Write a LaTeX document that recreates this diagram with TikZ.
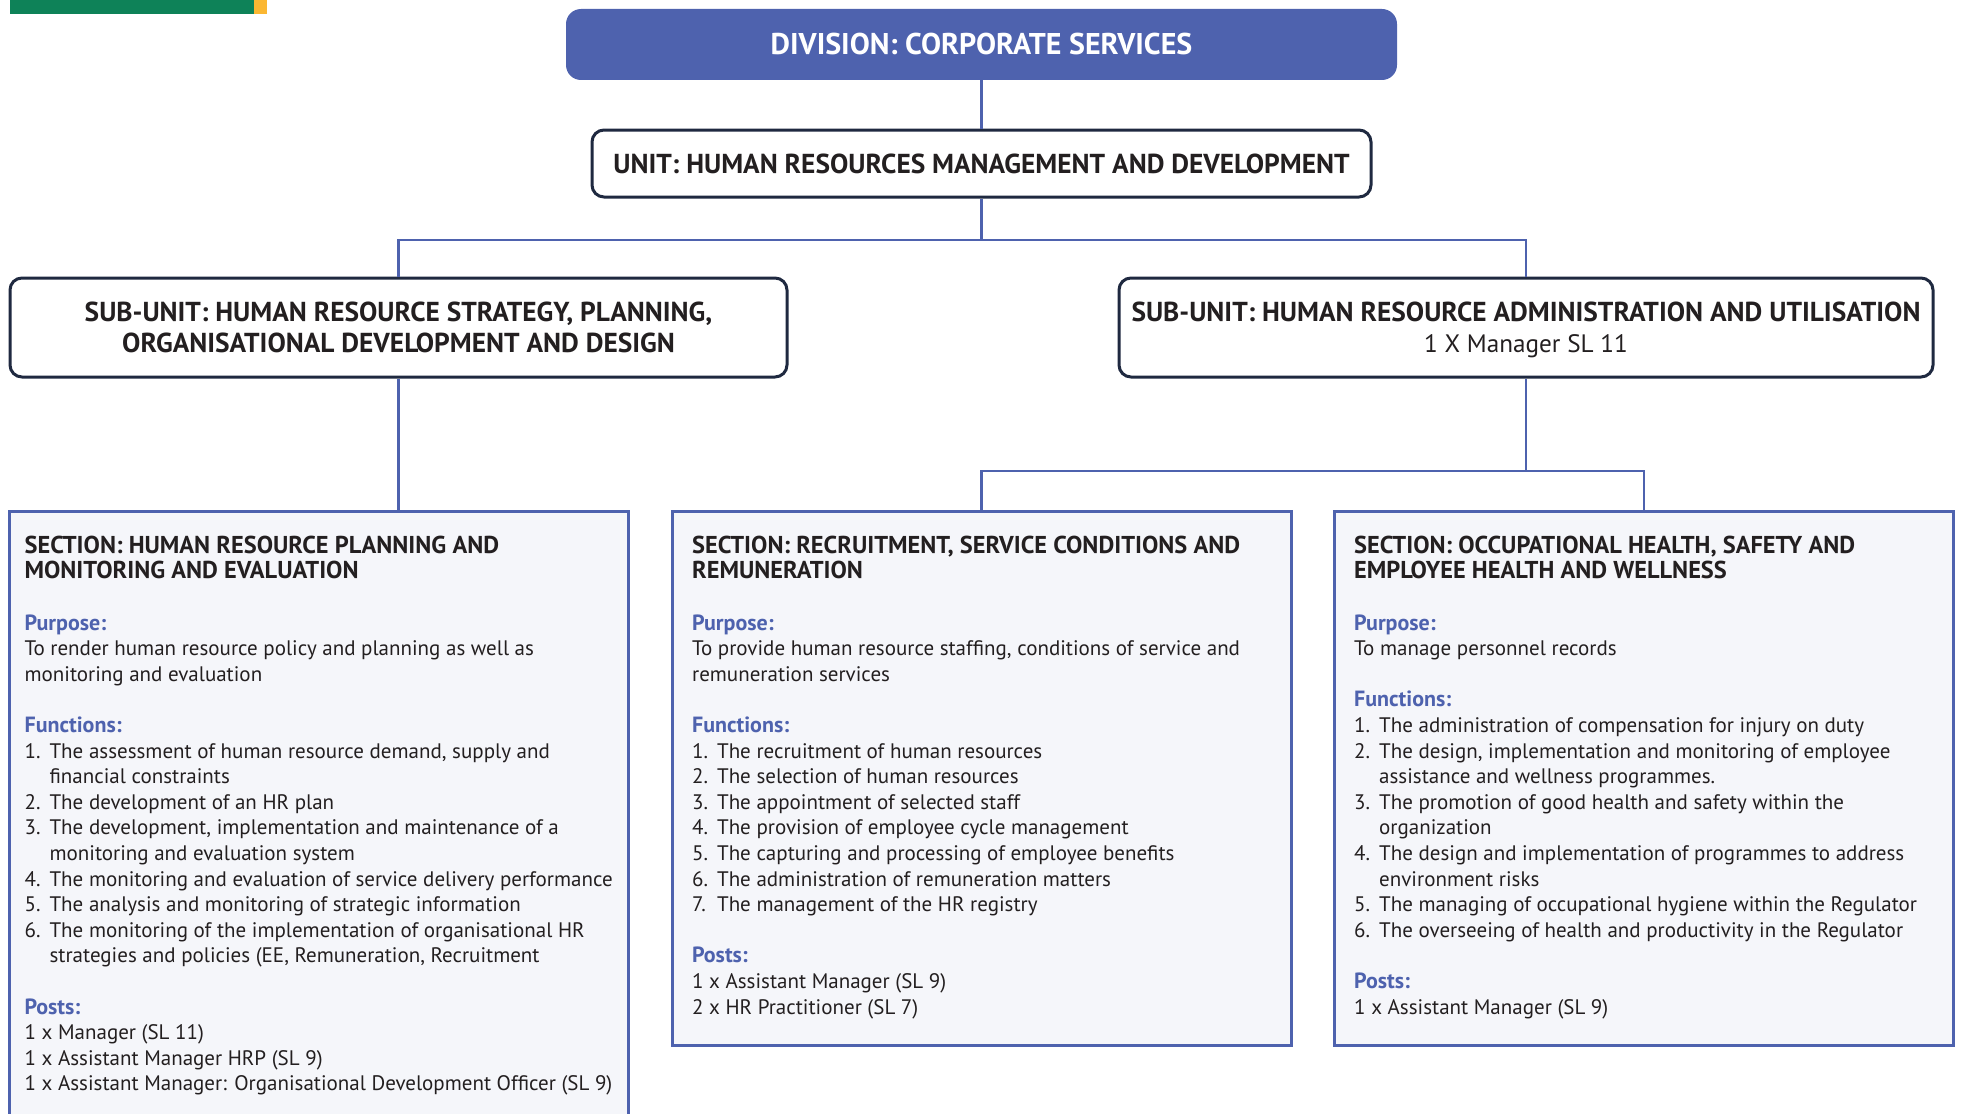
\documentclass[tikz,border=0pt]{standalone}
\usepackage{fontspec}
\setmainfont{PT Sans}
\usetikzlibrary{positioning, calc}

\definecolor{hrblue}{HTML}{4E62AE}
\definecolor{hrnavy}{HTML}{1F2940}
\definecolor{secfill}{HTML}{F5F6FA}
\definecolor{txt}{HTML}{231F20}
\definecolor{bargreen}{HTML}{0E8258}
\definecolor{baryellow}{HTML}{FBB732}

\newcommand{\sechead}{\fontsize{12.2}{12.8}\selectfont\bfseries}
\newcommand{\hrlabel}[1]{{\fontsize{11}{12.8}\selectfont\bfseries\color{hrblue}#1}}
\newcommand{\fitem}[2]{\makebox[12.5pt][l]{#1}#2}
\newcommand{\fcont}{\hspace*{12.5pt}}

\begin{document}
\begin{tikzpicture}[x=1pt, y=-1pt,
    divbox/.style={rounded corners=7.5pt, fill=hrblue, text=white, inner sep=0pt,
      font=\fontsize{15}{17}\selectfont\bfseries},
    unitbox/.style={rounded corners=6pt, draw=hrnavy, line width=1.5pt, fill=white,
      text=txt, inner sep=0pt, align=center},
    secbox/.style={draw=hrblue, line width=1.5pt, fill=secfill, inner sep=0pt,
      minimum width=309.5pt, anchor=north},
    sectext/.style={inner sep=0pt, align=left, text=txt,
      font=\fontsize{10.5}{12.8}\selectfont},
    link/.style={draw=hrblue, line width=1.25pt}]

  \useasboundingbox (0,0) rectangle (981.5,556.5);

  % Corner bar
  \fill[bargreen] (5,0) rectangle (127,7);
  \fill[baryellow] (127,0) rectangle (133.5,7);

  % Top levels
  \node[divbox, minimum width=415.5pt, minimum height=35.5pt] (div) at (490.75,22.25)
    {DIVISION: CORPORATE SERVICES};
  \node[unitbox, minimum width=389.5pt, minimum height=33.5pt,
    font=\fontsize{13.7}{15.6}\selectfont\bfseries] (unit) at (490.75,81.75)
    {UNIT: HUMAN RESOURCES MANAGEMENT AND DEVELOPMENT};

  % Sub-units
  \node[unitbox, minimum width=388.5pt, minimum height=49.5pt,
    font=\fontsize{13.7}{15.6}\selectfont\bfseries] (sul) at (199.25,163.75)
    {SUB-UNIT: HUMAN RESOURCE STRATEGY, PLANNING,\\ORGANISATIONAL DEVELOPMENT AND DESIGN};
  \node[unitbox, minimum width=407pt, minimum height=49.5pt, text depth=0pt,
    font=\fontsize{13.7}{15.6}\selectfont\bfseries] (sur) at (763,163.75)
    {SUB-UNIT: HUMAN RESOURCE ADMINISTRATION AND UTILISATION\\{\mdseries\fontsize{12.6}{15.6}\selectfont 1 X Manager SL 11}};

  % Sections
  \node[secbox, minimum height=320pt] (secA) at (159.5,254.75) {};
  \node[secbox, minimum height=267.25pt] (secB) at (490.75,254.75) {};
  \node[secbox, minimum height=267.25pt] (secC) at (822,254.75) {};

  \node[sectext, below right=13pt and 8.1pt of secA.north west] (secAtxt) {%
    {\sechead SECTION: HUMAN RESOURCE PLANNING AND}\\
    {\sechead MONITORING AND EVALUATION}\\[12.8pt]
    \hrlabel{Purpose:}\\
    To render human resource policy and planning as well as\\
    monitoring and evaluation\\[12.8pt]
    \hrlabel{Functions:}\\
    \fitem{1.}{The assessment of human resource demand, supply and}\\
    \fcont financial constraints\\
    \fitem{2.}{The development of an HR plan}\\
    \fitem{3.}{The development, implementation and maintenance of a}\\
    \fcont monitoring and evaluation system\\
    \fitem{4.}{The monitoring and evaluation of service delivery performance}\\
    \fitem{5.}{The analysis and monitoring of strategic information}\\
    \fitem{6.}{The monitoring of the implementation of organisational HR}\\
    \fcont strategies and policies (EE, Remuneration, Recruitment\\[12.8pt]
    \hrlabel{Posts:}\\
    1 x Manager (SL 11)\\
    1 x Assistant Manager HRP (SL 9)\\
    1 x Assistant Manager: Organisational Development Officer (SL 9)};

  \node[sectext, below right=13pt and 10.6pt of secB.north west] (secBtxt) {%
    {\sechead SECTION: RECRUITMENT, SERVICE CONDITIONS AND}\\
    {\sechead REMUNERATION}\\[12.8pt]
    \hrlabel{Purpose:}\\
    To provide human resource staffing, conditions of service and\\
    remuneration services\\[12.8pt]
    \hrlabel{Functions:}\\
    \fitem{1.}{The recruitment of human resources}\\
    \fitem{2.}{The selection of human resources}\\
    \fitem{3.}{The appointment of selected staff}\\
    \fitem{4.}{The provision of employee cycle management}\\
    \fitem{5.}{The capturing and processing of employee benefits}\\
    \fitem{6.}{The administration of remuneration matters}\\
    \fitem{7.}{The management of the HR registry}\\[12.8pt]
    \hrlabel{Posts:}\\
    1 x Assistant Manager (SL 9)\\
    2 x HR Practitioner (SL 7)};

  \node[sectext, below right=13pt and 10.4pt of secC.north west] (secCtxt) {%
    {\sechead SECTION: OCCUPATIONAL HEALTH, SAFETY AND}\\
    {\sechead EMPLOYEE HEALTH AND WELLNESS}\\[12.8pt]
    \hrlabel{Purpose:}\\
    To manage personnel records\\[12.8pt]
    \hrlabel{Functions:}\\
    \fitem{1.}{The administration of compensation for injury on duty}\\
    \fitem{2.}{The design, implementation and monitoring of employee}\\
    \fcont assistance and wellness programmes.\\
    \fitem{3.}{The promotion of good health and safety within the}\\
    \fcont organization\\
    \fitem{4.}{The design and implementation of programmes to address}\\
    \fcont environment risks\\
    \fitem{5.}{The managing of occupational hygiene within the Regulator}\\
    \fitem{6.}{The overseeing of health and productivity in the Regulator}\\[12.8pt]
    \hrlabel{Posts:}\\
    1 x Assistant Manager (SL 9)};

  % Connectors
  \coordinate (j1) at (490.75,120);
  \coordinate (j2) at (763,235.5);
  \draw[link] (div.south) -- (unit.north);
  \draw[link] (unit.south) -- (j1);
  \draw[link] (sul.north) |- (j1) -| (sur.north);
  \draw[link] (sul.south) -- (sul.south |- secA.north);
  \draw[link] (sur.south) -- (j2);
  \draw[link] (secB.north) |- (j2) -| (secC.north);

\end{tikzpicture}
\end{document}
